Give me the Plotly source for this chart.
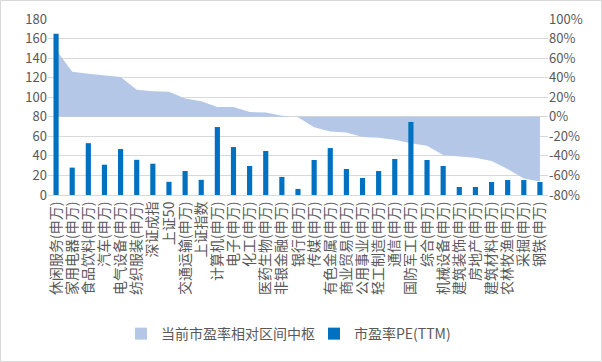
import plotly.graph_objects as go

categories = ["休闲服务(申万)", "家用电器(申万)", "食品饮料(申万)", "汽车(申万)", "电气设备(申万)",
              "纺织服装(申万)", "深证成指", "上证50", "交通运输(申万)", "上证指数",
              "计算机(申万)", "电子(申万)", "化工(申万)", "医药生物(申万)", "非银金融(申万)",
              "银行(申万)", "传媒(申万)", "有色金属(申万)", "商业贸易(申万)", "公用事业(申万)",
              "轻工制造(申万)", "通信(申万)", "国防军工(申万)", "综合(申万)", "机械设备(申万)",
              "建筑装饰(申万)", "房地产(申万)", "建筑材料(申万)", "农林牧渔(申万)", "采掘(申万)",
              "钢铁(申万)"]

pe_ttm = [165, 28, 53, 31, 47, 36, 32, 13.5, 24.5, 15.5,
          69.5, 49, 29.7, 45, 18.5, 6.2, 35.8, 48, 26.6, 17.4,
          24.5, 36.8, 74.7, 35.8, 29.7, 8.2, 8.2, 13.3, 15.3, 15.3,
          13.3]

rel_center = [68.5, 46, 44, 42.6, 40.6, 27.6, 26.2, 25.6, 18.7, 16,
              9.9, 9.9, 4.8, 4.5, 1, -0.5, -10.6, -15, -16, -20.8,
              -21.5, -23.5, -27, -29.7, -39, -40.6, -42, -45.3, -53.5, -63,
              -66.3]

left_ticks = list(range(0, 181, 20))
right_ticks = list(range(-80, 101, 20))
right_labels = [f"{v}%" for v in right_ticks]

AREA = "#B4C7E7"
BAR = "#0070C0"
TXT = "#595959"
GRID = "#D9D9D9"
FONT = "Noto Sans CJK SC"

fig = go.Figure()
fig.add_trace(go.Scatter(x=categories, y=rel_center, mode="lines", fill="tozeroy",
                         line=dict(width=0, color=AREA), fillcolor=AREA,
                         yaxis="y", showlegend=False, hoverinfo="x+y"))
fig.add_trace(go.Bar(x=categories, y=[None] * len(categories), name="当前市盈率相对区间中枢",
                     marker_color=AREA, yaxis="y2", showlegend=True))
fig.add_trace(go.Bar(x=categories, y=pe_ttm, name="市盈率PE(TTM)", marker_color=BAR,
                     width=0.32, yaxis="y2"))

fig.update_layout(
    template="none",
    width=602, height=362,
    margin=dict(l=48, r=54, t=19, b=167, autoexpand=False),
    paper_bgcolor="white", plot_bgcolor="white",
    font=dict(family=FONT, size=13, color=TXT),
    barmode="overlay",
    showlegend=True,
    legend=dict(orientation="h", x=(121 - 48) / 500, xanchor="left", y=-0.79, yanchor="middle",
                font=dict(size=14, color=TXT), itemwidth=30, traceorder="normal",
                entrywidth=148, entrywidthmode="pixels",
                bgcolor="rgba(0,0,0,0)"),
    xaxis=dict(type="category", tickangle=-90, showline=True, linecolor=GRID, linewidth=1,
               showgrid=False, ticks="", automargin=False, tickfont=dict(size=14, color=TXT),
               tickmode="array", tickvals=categories, ticktext=categories,
               range=[-0.5, len(categories) - 0.5]),
    yaxis=dict(side="right", range=[-80, 100], tickvals=right_ticks, ticktext=right_labels,
               showgrid=True, gridcolor=GRID, gridwidth=1, zeroline=False, ticks="",
               showline=False, automargin=False, tickfont=dict(size=13, color=TXT)),
    yaxis2=dict(overlaying="y", side="left", range=[0, 180], tickvals=left_ticks,
                showgrid=False, zeroline=False, ticks="", showline=False, automargin=False,
                tickfont=dict(size=13, color=TXT)),
    shapes=[dict(type="rect", xref="paper", yref="paper",
                 x0=(0.5 - 48) / 500, x1=(601.5 - 48) / 500,
                 y0=(195 - 361.5) / 176, y1=(195 - 0.5) / 176,
                 line=dict(color=GRID, width=1), fillcolor="rgba(0,0,0,0)", layer="below")],
)

fig.write_html("out.html", config={"displayModeBar": False},
               post_script="document.body.style.margin='0';document.body.style.overflow='hidden';")
